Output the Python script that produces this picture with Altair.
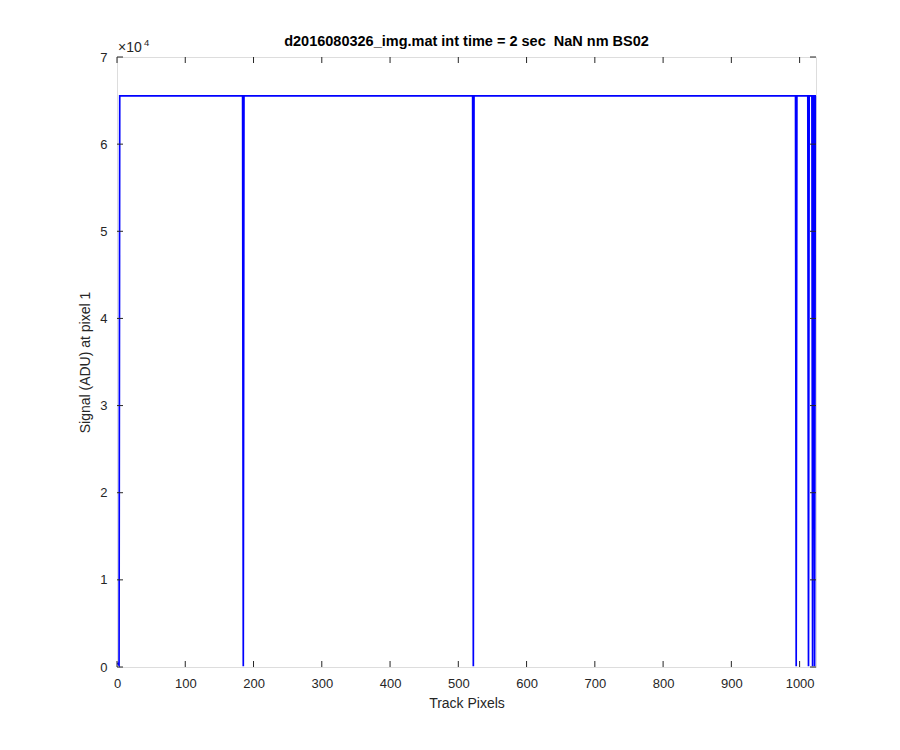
import altair as alt
import pandas as pd

# Data
track_pixels = [1, 2, 3, 4, 184, 185, 186, 521, 522, 523, 994, 995, 996,
                1012, 1013, 1014, 1018, 1019, 1020, 1021, 1022, 1023, 1024]
signal_adu = [500, 300, 200, 65535, 65535, 100, 65535, 65535, 100, 65535,
              65535, 100, 65535, 65535, 100, 65535, 65535, 100, 65535,
              65535, 100, 65535, 65535]
x_ticks = [0, 100, 200, 300, 400, 500, 600, 700, 800, 900, 1000]
y_ticks = [0, 10000, 20000, 30000, 40000, 50000, 60000, 70000]
title_text = "d2016080326_img.mat int time = 2 sec\u00a0 NaN nm BS02"

W, H = 699, 610
FONT = "Liberation Sans"
AX = "#262626"

df = pd.DataFrame({"px": track_pixels, "sig": signal_adu})
dx = pd.DataFrame({"px": x_ticks})
dy = pd.DataFrame({"sig": y_ticks})

xscale = alt.Scale(domain=[0, 1024], nice=False, zero=False)
yscale = alt.Scale(domain=[0, 70000], nice=False)

xaxis = alt.Axis(values=x_ticks, ticks=False, domain=False, grid=False,
                 format="d",
                 title="Track Pixels", labelPadding=10, titlePadding=6,
                 labelFont=FONT, titleFont=FONT, labelFontSize=13,
                 titleFontSize=14, titleFontWeight="normal",
                 labelColor=AX, titleColor=AX, labelFlush=False)
yaxis = alt.Axis(values=y_ticks, ticks=False, domain=False, grid=False,
                 labelExpr="datum.value / 10000",
                 title="Signal (ADU) at pixel 1", labelPadding=10,
                 titlePadding=7, labelFont=FONT, titleFont=FONT,
                 labelFontSize=13, titleFontSize=14,
                 titleFontWeight="normal", labelColor=AX,
                 titleColor=AX, labelFlush=False)

line = alt.Chart(df).mark_line(color="#0000FF", strokeWidth=1.7).encode(
    x=alt.X("px:Q", scale=xscale, axis=xaxis),
    y=alt.Y("sig:Q", scale=yscale, axis=yaxis),
)

tick_len = 6
xt_bottom = alt.Chart(dx).mark_rule(color=AX, strokeWidth=1).encode(
    x=alt.X("px:Q", scale=xscale, axis=xaxis),
    y=alt.value(H), y2=alt.value(H - tick_len))
xt_top = alt.Chart(dx).mark_rule(color=AX, strokeWidth=1).encode(
    x=alt.X("px:Q", scale=xscale, axis=xaxis),
    y=alt.value(0), y2=alt.value(tick_len))
yt_left = alt.Chart(dy).mark_rule(color=AX, strokeWidth=1).encode(
    y=alt.Y("sig:Q", scale=yscale, axis=yaxis),
    x=alt.value(0), x2=alt.value(tick_len))
yt_right = alt.Chart(dy).mark_rule(color=AX, strokeWidth=1).encode(
    y=alt.Y("sig:Q", scale=yscale, axis=yaxis),
    x=alt.value(W), x2=alt.value(W - tick_len))

exp_base = alt.Chart(pd.DataFrame({"s": ["×10"]})).mark_text(
    align="left", baseline="alphabetic", font=FONT, fontSize=14,
    color=AX).encode(text="s:N", x=alt.value(1), y=alt.value(-5))
exp_pow = alt.Chart(pd.DataFrame({"s": ["4"]})).mark_text(
    align="left", baseline="alphabetic", font=FONT, fontSize=9.5,
    color=AX).encode(text="s:N", x=alt.value(27), y=alt.value(-11))
title = alt.Chart(pd.DataFrame({"s": [title_text]})).mark_text(
    align="center", baseline="middle", font=FONT, fontSize=14.5,
    fontWeight="bold", color="black").encode(
    text="s:N", x=alt.value(W / 2), y=alt.value(-15))

chart = alt.layer(line, xt_bottom, xt_top, yt_left, yt_right,
                  exp_base, exp_pow, title).properties(
    width=W, height=H,
    autosize=alt.AutoSizeParams(type="none"),
    padding={"left": 109, "top": 49, "right": 76, "bottom": 75},
).configure_view(stroke=AX, strokeWidth=1.2).configure(background="white")

chart.save("out.html", embed_options={"renderer": "svg", "actions": False})
